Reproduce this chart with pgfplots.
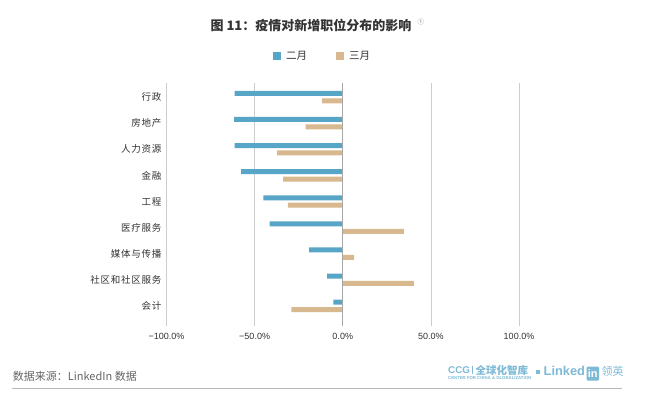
\documentclass[border=0pt]{standalone}
\usepackage{fontspec}
\setmainfont{Noto Sans CJK SC}
\newfontfamily\lat{Liberation Sans}
\newfontfamily\spaced[LetterSpace=8]{Noto Sans CJK SC}
\usepackage{pgfplots}
\pgfplotsset{compat=1.18}
\definecolor{cblue}{RGB}{88,166,199}
\definecolor{ctan}{RGB}{216,184,142}
\definecolor{gridc}{RGB}{205,205,205}
\definecolor{txt}{RGB}{51,51,51}
\definecolor{logoc}{RGB}{125,186,214}
\begin{document}
\begin{tikzpicture}[x=1pt,y=1pt]
\path[use as bounding box, fill=white] (0,0) rectangle (648,399);
\begin{axis}[at={(166.5pt,73pt)}, anchor=south west, scale only axis,
  width=352.5pt, height=243pt,
  xmin=-100, xmax=100, ymin=-0.77, ymax=8.54,
  xtick={-100,-50,0,50,100},
  xticklabels={−100.0\%,−50.0\%,0.0\%,50.0\%,100.0\%},
  ytick={0,...,8},
  yticklabels={会计,社区和社区服务,媒体与传播,医疗服务,工程,金融,人力资源,房地产,行政},
  axis line style={draw=none}, major tick length=0pt,
  xmajorgrids, grid style={gridc, line width=0.7pt},
  xticklabel style={font=\lat\fontsize{9}{10}\selectfont, text=txt, yshift=-3.5pt},
  yticklabel style={font=\spaced\fontsize{9.5}{11}\selectfont, text=txt, xshift=-1.5pt},
  legend style={at={(0.4403,1.112)}, anchor=center, draw=none, fill=none,
    inner sep=0pt, nodes={inner sep=0pt},
    legend columns=2, font=\fontsize{10.5}{12}\selectfont, text=txt,
    /tikz/every odd column/.append style={column sep=5pt},
    /tikz/every even column/.append style={column sep=29pt}},
  legend image code/.code={\fill[#1] (0pt,-4pt) rectangle (8pt,4pt);},
  clip=false,
]
\addplot[xbar, bar width=5pt, bar shift=3.7pt, fill=cblue, draw=none] coordinates {
 (-5.3,0) (-8.9,1) (-19.1,2) (-41.5,3) (-45.0,4) (-57.6,5) (-61.4,6) (-61.6,7) (-61.4,8)};
\addlegendentry{二月}
\addplot[xbar, bar width=5pt, bar shift=-3.7pt, fill=ctan, draw=none] coordinates {
 (-29.1,0) (40.3,1) (6.4,2) (34.7,3) (-31.1,4) (-33.8,5) (-37.2,6) (-21.0,7) (-11.7,8)};
\addlegendentry{三月}
\draw[gray!70, line width=1pt] (axis cs:0,-0.77) -- (axis cs:0,8.54);
\end{axis}
% title
\node[anchor=center, text=txt, font=\bfseries\fontsize{13}{15}\selectfont] at (311,374) {图 11：疫情对新增职位分布的影响};
\node[anchor=west, text=gray, font=\fontsize{6.5}{7}\selectfont] at (414,377.3) {①};
% footer
\node[anchor=west, text=black!60, font=\fontsize{11}{12}\selectfont, inner sep=0pt] at (12.7,22.3) {数据来源：LinkedIn 数据};
\draw[black!28, line width=0.8pt] (12,10.7) -- (621.7,10.7);
% logo
\node[anchor=west, inner sep=0pt, text=logoc, font=\lat\bfseries\fontsize{9.8}{10}\selectfont] at (448,28.6) {CCG};
\draw[logoc, line width=0.5pt] (472.7,24.5) -- (472.7,33);
\node[anchor=west, inner sep=0pt, text=logoc, font=\bfseries\fontsize{10.5}{11}\selectfont] at (475.5,28.6) {全球化智库};
\node[anchor=west, inner sep=0pt, text=logoc] at (448,21) {\resizebox{83pt}{3pt}{\lat\bfseries CENTER FOR CHINA \& GLOBALIZATION}};
\fill[logoc] (536.3,25.3) rectangle (539.7,28.7);
\node[anchor=west, inner sep=0pt, text=logoc, font=\lat\bfseries\fontsize{12.8}{13}\selectfont] at (543.5,28.3) {Linked};
\fill[logoc, rounded corners=1pt] (586.7,18.3) rectangle (599,32.3);
\node[anchor=center, inner sep=0pt, text=white, font=\lat\bfseries\fontsize{11}{12}\selectfont] at (592.8,25.3) {in};
\node[anchor=west, inner sep=0pt, text=logoc, font=\fontsize{11}{12}\selectfont] at (601.5,28) {领英};
\end{tikzpicture}
\end{document}
